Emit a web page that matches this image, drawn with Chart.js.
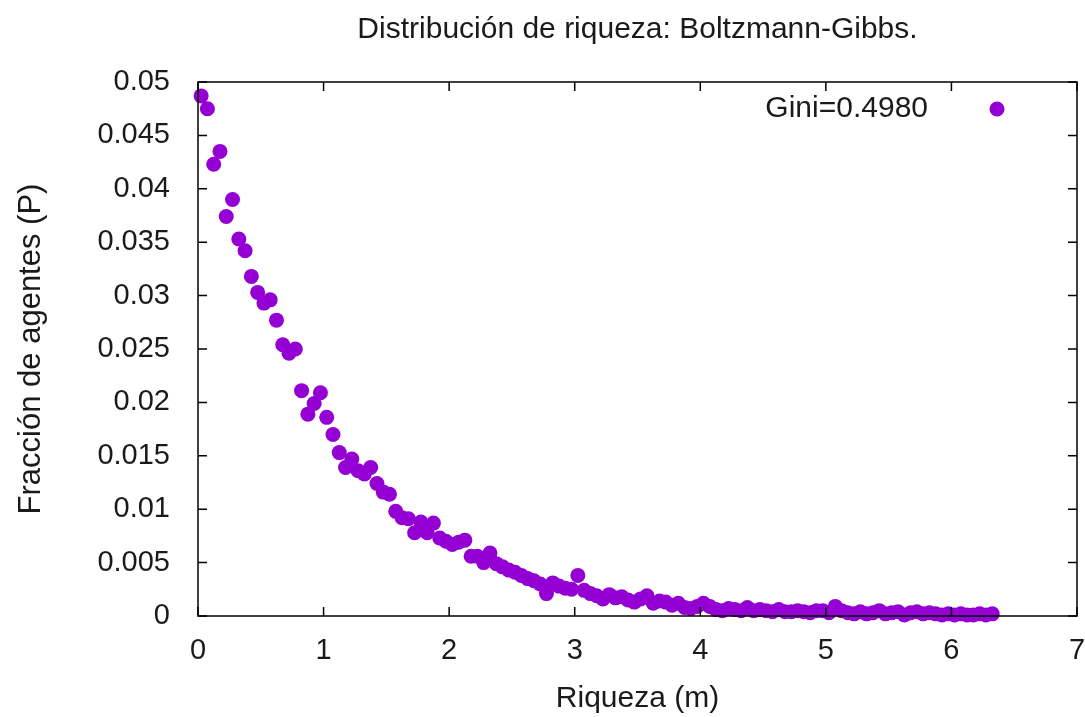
<!DOCTYPE html>
<html>
<head>
<meta charset="utf-8">
<title>Distribución de riqueza</title>
<script src="https://cdn.jsdelivr.net/npm/chart.js@4"></script>
<style>
  html, body { margin: 0; padding: 0; background: #fff; }
  #wrap { width: 1085px; height: 717px; }
</style>
</head>
<body>
<div id="wrap"><canvas id="chart" width="1085" height="717"></canvas></div>
<script>
// bin centres (wealth m) and fraction of agents in each bin
const riqueza = [
  0.025, 0.075, 0.125, 0.175, 0.225, 0.275, 0.325, 0.375, 0.425, 0.475,
  0.525, 0.575, 0.625, 0.675, 0.725, 0.775, 0.825, 0.875, 0.925, 0.975,
  1.025, 1.075, 1.125, 1.175, 1.225, 1.275, 1.325, 1.375, 1.425, 1.475,
  1.525, 1.575, 1.625, 1.675, 1.725, 1.775, 1.825, 1.875, 1.925, 1.975,
  2.025, 2.075, 2.125, 2.175, 2.225, 2.275, 2.325, 2.375, 2.425, 2.475,
  2.525, 2.575, 2.625, 2.675, 2.725, 2.775, 2.825, 2.875, 2.925, 2.975,
  3.025, 3.075, 3.125, 3.175, 3.225, 3.275, 3.325, 3.375, 3.425, 3.475,
  3.525, 3.575, 3.625, 3.675, 3.725, 3.775, 3.825, 3.875, 3.925, 3.975,
  4.025, 4.075, 4.125, 4.175, 4.225, 4.275, 4.325, 4.375, 4.425, 4.475,
  4.525, 4.575, 4.625, 4.675, 4.725, 4.775, 4.825, 4.875, 4.925, 4.975,
  5.025, 5.075, 5.125, 5.175, 5.225, 5.275, 5.325, 5.375, 5.425, 5.475,
  5.525, 5.575, 5.625, 5.675, 5.725, 5.775, 5.825, 5.875, 5.925, 5.975,
  6.025, 6.075, 6.125, 6.175, 6.225, 6.275, 6.325
];
const fraccion = [
  0.0487, 0.0475, 0.0423, 0.0435, 0.0374, 0.0390, 0.0353, 0.0342, 0.0318, 0.0303,
  0.0293, 0.0296, 0.0277, 0.0254, 0.0246, 0.0250, 0.0211, 0.0189, 0.0199, 0.0209,
  0.0186, 0.0170, 0.0153, 0.0139, 0.0147, 0.0136, 0.0133, 0.0139, 0.0124, 0.0116,
  0.0114, 0.0098, 0.0092, 0.0091, 0.0078, 0.0088, 0.0078, 0.0087, 0.0073, 0.0070,
  0.0067, 0.0069, 0.0071, 0.0056, 0.0056, 0.0050, 0.0059, 0.0049, 0.0046, 0.0043,
  0.0041, 0.0038, 0.0035, 0.0033, 0.0030, 0.0021, 0.0031, 0.0028, 0.0026, 0.0025,
  0.0038, 0.0024, 0.0021, 0.0019, 0.0016, 0.0020, 0.0017, 0.0018, 0.0015, 0.0013,
  0.0016, 0.0019, 0.0012, 0.0014, 0.0013, 0.0010, 0.0012, 0.0008, 0.0007, 0.0009,
  0.0012, 0.0009, 0.0006, 0.0005, 0.0007, 0.0006, 0.0005, 0.0008, 0.0005, 0.0006,
  0.0005, 0.0004, 0.0006, 0.0004, 0.0004, 0.0005, 0.0004, 0.0003, 0.0005, 0.0005,
  0.0003, 0.0009, 0.0005, 0.0003, 0.0002, 0.0004, 0.0002, 0.0003, 0.0005, 0.0002,
  0.0003, 0.0004, 0.0001, 0.0003, 0.0004, 0.0002, 0.0003, 0.0002, 0.0001, 0.0002,
  0.0001, 0.0002, 0.0001, 0.0001, 0.0002, 0.0001, 0.0002
];
const titulo = "Distribución de riqueza: Boltzmann-Gibbs.";
const giniLabel = "Gini=0.4980";

const VIOLET = "#9400d3";
const INK = "#1a1a1a";
const FONT = "'Liberation Sans', Arial, Helvetica, sans-serif";

Chart.defaults.font.family = FONT;
Chart.defaults.color = INK;

// border box with inward ticks on all four sides (gnuplot style)
const framePlugin = {
  id: "frame",
  afterDatasetsDraw(chart) {
    const { ctx, chartArea: a, scales: { x, y } } = chart;
    const len = 9;
    ctx.save();
    ctx.strokeStyle = "#000";
    ctx.lineWidth = 1.5;
    ctx.beginPath();
    x.ticks.forEach(t => {
      const px = x.getPixelForValue(t.value);
      ctx.moveTo(px, a.bottom); ctx.lineTo(px, a.bottom - len);
      ctx.moveTo(px, a.top); ctx.lineTo(px, a.top + len);
    });
    y.ticks.forEach(t => {
      const py = y.getPixelForValue(t.value);
      ctx.moveTo(a.left, py); ctx.lineTo(a.left + len, py);
      ctx.moveTo(a.right, py); ctx.lineTo(a.right - len, py);
    });
    ctx.stroke();
    ctx.strokeRect(a.left, a.top, a.right - a.left, a.bottom - a.top);
    ctx.restore();
  }
};

// title centred over the plot box, key in the top right corner
const textPlugin = {
  id: "texts",
  afterDraw(chart) {
    const { ctx, chartArea: a } = chart;
    const ds = chart.data.datasets[0];
    ctx.save();
    ctx.fillStyle = INK;
    ctx.textBaseline = "middle";
    ctx.font = `30px ${FONT}`;
    ctx.textAlign = "center";
    ctx.fillText(titulo, (a.left + a.right) / 2, 30);

    const yk = a.top + 27;
    ctx.textAlign = "right";
    ctx.fillText(ds.label, a.right - 149, yk);
    ctx.fillStyle = ds.backgroundColor;
    ctx.beginPath();
    ctx.arc(a.right - 80, yk, ds.pointRadius, 0, Math.PI * 2);
    ctx.fill();
    ctx.restore();
  }
};

const ctx = document.getElementById("chart").getContext("2d");
new Chart(ctx, {
  type: "scatter",
  data: {
    datasets: [{
      label: giniLabel,
      data: riqueza.map((m, i) => ({ x: m, y: fraccion[i] })),
      backgroundColor: VIOLET,
      borderWidth: 0,
      pointRadius: 7.5,
      pointHoverRadius: 7.5,
      clip: false
    }]
  },
  options: {
    responsive: false,
    animation: false,
    layout: { padding: { left: 0, right: 8, top: 82, bottom: 0 } },
    plugins: {
      legend: { display: false },
      tooltip: { enabled: false },
      title: { display: false }
    },
    scales: {
      x: {
        type: "linear",
        min: 0, max: 7,
        grid: { display: false, drawTicks: false },
        border: { display: false },
        ticks: { stepSize: 1, padding: 18, font: { size: 29 }, color: INK },
        title: { display: true, text: "Riqueza (m)", font: { size: 30 }, color: INK, padding: { top: 0, bottom: 0 } },
        afterFit: (s) => { s.height = 101; s.paddingLeft = 0; s.paddingRight = 0; }
      },
      y: {
        type: "linear",
        min: 0, max: 0.05,
        grid: { display: false, drawTicks: false },
        border: { display: false },
        ticks: {
          stepSize: 0.005, padding: 28, font: { size: 29 }, color: INK,
          callback: (v) => String(+Number(v).toFixed(3))
        },
        title: { display: true, text: "Fracción de agentes (P)", font: { size: 31 }, color: INK, padding: { top: 13, bottom: 0 } },
        afterFit: (s) => { s.width = 198; s.paddingTop = 0; s.paddingBottom = 0; }
      }
    }
  },
  plugins: [framePlugin, textPlugin]
});
</script>
</body>
</html>
